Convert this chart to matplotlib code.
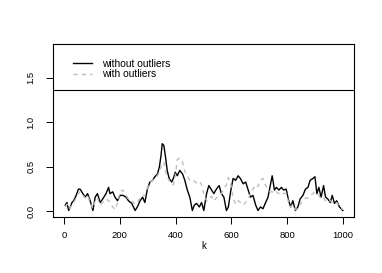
import matplotlib
matplotlib.use("Agg")
import matplotlib.pyplot as plt

plt.rcParams['font.family'] = ['Liberation Sans', 'DejaVu Sans']

k = [5, 11, 17, 23, 29, 35, 44, 52, 58, 68, 76, 85, 94, 104, 112, 120, 130, 139, 151, 160,
     165, 175, 183, 192, 201, 211, 223, 231, 243, 255, 263, 273, 282, 290, 299, 308, 318, 326, 335, 342,
     348, 352, 358, 364, 370, 377, 386, 392, 399, 406, 415, 425, 433, 442, 451, 460, 467, 475, 485, 493,
     501, 511, 519, 529, 537, 546, 556, 564, 573, 582, 589, 598, 606, 615, 624, 632, 642, 651, 660, 668,
     677, 687, 695, 704, 713, 721, 731, 739, 746, 754, 761, 770, 779, 787, 796, 805, 812, 820, 829, 838,
     846, 856, 865, 874, 882, 892, 899, 906, 913, 921, 930, 937, 945, 954, 961, 969, 977, 987, 999]

without_outliers = [0.07, 0.10, 0.01, 0.05, 0.10, 0.12, 0.18, 0.25, 0.25, 0.20, 0.16, 0.20, 0.12, 0.01, 0.16, 0.20, 0.10, 0.14, 0.20, 0.27,
                    0.20, 0.22, 0.16, 0.12, 0.18, 0.18, 0.16, 0.12, 0.09, 0.01, 0.05, 0.12, 0.16, 0.10, 0.25, 0.33, 0.35, 0.39, 0.42, 0.50,
                    0.63, 0.76, 0.74, 0.61, 0.46, 0.37, 0.33, 0.37, 0.44, 0.40, 0.46, 0.42, 0.35, 0.24, 0.16, 0.01, 0.07, 0.09, 0.05, 0.10,
                    0.01, 0.20, 0.29, 0.24, 0.20, 0.25, 0.29, 0.20, 0.16, 0.01, 0.05, 0.24, 0.37, 0.35, 0.40, 0.37, 0.31, 0.33, 0.24, 0.16,
                    0.18, 0.07, 0.01, 0.05, 0.03, 0.09, 0.16, 0.29, 0.40, 0.24, 0.27, 0.24, 0.27, 0.24, 0.25, 0.12, 0.05, 0.12, 0.01, 0.05,
                    0.14, 0.18, 0.25, 0.27, 0.35, 0.37, 0.39, 0.20, 0.27, 0.16, 0.29, 0.16, 0.14, 0.10, 0.18, 0.09, 0.12, 0.05, 0.01]

with_outliers = [0.05, 0.08, 0.03, 0.04, 0.08, 0.10, 0.15, 0.20, 0.22, 0.18, 0.15, 0.18, 0.10, 0.03, 0.12, 0.15, 0.07, 0.10, 0.14, 0.12,
                 0.10, 0.05, 0.02, 0.10, 0.22, 0.24, 0.18, 0.14, 0.12, 0.08, 0.10, 0.15, 0.18, 0.18, 0.25, 0.33, 0.35, 0.38, 0.40, 0.45,
                 0.50, 0.55, 0.55, 0.45, 0.38, 0.35, 0.30, 0.30, 0.40, 0.58, 0.60, 0.55, 0.45, 0.40, 0.35, 0.33, 0.34, 0.32, 0.34, 0.30,
                 0.20, 0.12, 0.12, 0.17, 0.12, 0.15, 0.18, 0.20, 0.25, 0.30, 0.38, 0.30, 0.15, 0.08, 0.12, 0.10, 0.07, 0.10, 0.14, 0.20,
                 0.25, 0.30, 0.28, 0.35, 0.37, 0.30, 0.25, 0.22, 0.22, 0.20, 0.22, 0.20, 0.22, 0.20, 0.20, 0.10, 0.05, 0.08, 0.02, 0.04,
                 0.08, 0.12, 0.15, 0.15, 0.18, 0.20, 0.22, 0.20, 0.18, 0.14, 0.15, 0.12, 0.10, 0.12, 0.10, 0.08, 0.10, 0.06, 0.02]

threshold = 1.36
x_ticks = [0, 200, 400, 600, 800, 1000]
y_ticks = [0.0, 0.5, 1.0, 1.5]
y_tick_labels = ["0.0", "0.5", "1.0", "1.5"]

fig = plt.figure(figsize=(3.82, 2.73), dpi=100)
ax = fig.add_axes([0.138, 0.206, 0.7895, 0.633])

ax.plot(k, without_outliers, color='black', lw=1.0, label='without outliers')
ax.plot(k, with_outliers, color='#BEBEBE', lw=1.0, ls=(0, (3, 3)), label='with outliers')
ax.axhline(threshold, color='black', lw=0.8)

ax.set_xlim(-40, 1040)
ax.set_ylim(-0.06, 1.88)
ax.set_xticks(x_ticks)
ax.set_yticks(y_ticks)
ax.set_yticklabels(y_tick_labels, rotation=90, va='center')
ax.tick_params(direction='out', length=5, width=0.7, labelsize=6.8)
ax.tick_params(axis='x', pad=5.5)
ax.tick_params(axis='y', pad=7.5)
for s in ax.spines.values():
    s.set_linewidth(0.8)
ax.set_xlabel('k', fontsize=7.0, labelpad=0.5)

ax.legend(loc='upper left', bbox_to_anchor=(0.066, 0.915), frameon=False, fontsize=7.4,
          handlelength=1.85, handletextpad=1.0, labelspacing=0.05, borderpad=0, borderaxespad=0)

fig.savefig('out.png', dpi=100)
